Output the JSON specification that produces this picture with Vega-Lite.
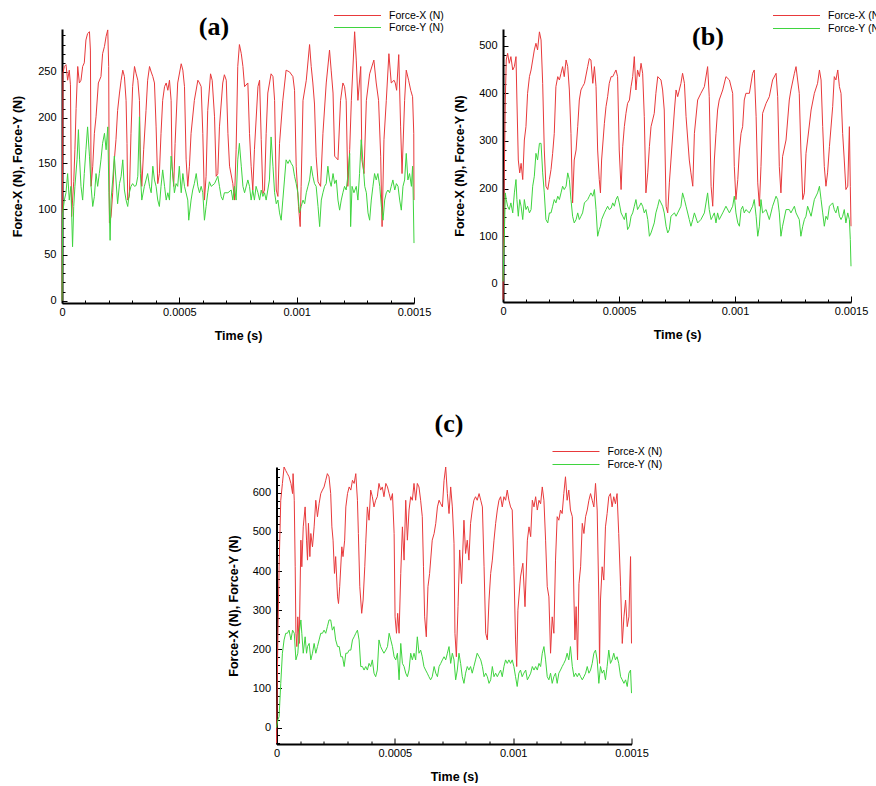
{
"$schema":"https://vega.github.io/schema/vega-lite/v6.json",
"background":"white",
"padding":{"left":11,"top":9,"right":0,"bottom":0},
"datasets":{
"aX":[{"t":0,"v":0},{"t":4,"v":249},{"t":10,"v":256},{"t":17,"v":258},{"t":24,"v":241},{"t":31,"v":252},{"t":36,"v":236},{"t":41,"v":92},{"t":45,"v":110},{"t":50,"v":130},{"t":55,"v":165},{"t":60,"v":210},{"t":67,"v":256},{"t":74,"v":238},{"t":81,"v":241},{"t":88,"v":256},{"t":95,"v":260},{"t":102,"v":285},{"t":109,"v":292},{"t":117,"v":294},{"t":121,"v":274},{"t":124,"v":125},{"t":131,"v":147},{"t":138,"v":183},{"t":145,"v":201},{"t":155,"v":238},{"t":166,"v":245},{"t":173,"v":270},{"t":181,"v":278},{"t":188,"v":289},{"t":195,"v":296},{"t":199,"v":256},{"t":202,"v":85},{"t":209,"v":92},{"t":216,"v":118},{"t":223,"v":154},{"t":230,"v":176},{"t":237,"v":208},{"t":245,"v":227},{"t":252,"v":241},{"t":259,"v":252},{"t":266,"v":245},{"t":273,"v":219},{"t":277,"v":172},{"t":280,"v":110},{"t":287,"v":114},{"t":294,"v":183},{"t":301,"v":234},{"t":309,"v":256},{"t":316,"v":248},{"t":323,"v":241},{"t":330,"v":219},{"t":334,"v":154},{"t":340,"v":125},{"t":348,"v":165},{"t":358,"v":208},{"t":365,"v":241},{"t":373,"v":256},{"t":380,"v":250},{"t":387,"v":245},{"t":394,"v":238},{"t":401,"v":190},{"t":408,"v":128},{"t":415,"v":139},{"t":422,"v":183},{"t":429,"v":219},{"t":437,"v":234},{"t":444,"v":238},{"t":451,"v":230},{"t":458,"v":241},{"t":465,"v":219},{"t":469,"v":147},{"t":476,"v":125},{"t":482,"v":172},{"t":493,"v":238},{"t":508,"v":259},{"t":515,"v":252},{"t":522,"v":234},{"t":529,"v":154},{"t":536,"v":125},{"t":543,"v":147},{"t":550,"v":183},{"t":564,"v":219},{"t":579,"v":241},{"t":586,"v":238},{"t":593,"v":234},{"t":600,"v":183},{"t":607,"v":110},{"t":614,"v":136},{"t":621,"v":208},{"t":633,"v":248},{"t":640,"v":241},{"t":650,"v":201},{"t":657,"v":136},{"t":664,"v":139},{"t":671,"v":190},{"t":685,"v":238},{"t":692,"v":247},{"t":700,"v":241},{"t":707,"v":183},{"t":714,"v":147},{"t":728,"v":128},{"t":735,"v":110},{"t":742,"v":165},{"t":749,"v":256},{"t":756,"v":280},{"t":764,"v":270},{"t":771,"v":256},{"t":778,"v":234},{"t":792,"v":238},{"t":799,"v":183},{"t":806,"v":147},{"t":813,"v":121},{"t":820,"v":165},{"t":835,"v":234},{"t":842,"v":241},{"t":849,"v":176},{"t":856,"v":117},{"t":863,"v":121},{"t":870,"v":183},{"t":877,"v":227},{"t":891,"v":248},{"t":899,"v":245},{"t":906,"v":219},{"t":913,"v":121},{"t":920,"v":114},{"t":927,"v":172},{"t":941,"v":219},{"t":955,"v":252},{"t":970,"v":250},{"t":984,"v":245},{"t":991,"v":230},{"t":998,"v":147},{"t":1008,"v":103},{"t":1015,"v":81},{"t":1019,"v":125},{"t":1027,"v":219},{"t":1041,"v":241},{"t":1055,"v":280},{"t":1062,"v":256},{"t":1069,"v":238},{"t":1076,"v":215},{"t":1083,"v":158},{"t":1091,"v":130},{"t":1102,"v":125},{"t":1112,"v":183},{"t":1126,"v":238},{"t":1140,"v":274},{"t":1147,"v":252},{"t":1155,"v":227},{"t":1162,"v":158},{"t":1176,"v":154},{"t":1187,"v":219},{"t":1197,"v":238},{"t":1204,"v":234},{"t":1211,"v":219},{"t":1218,"v":125},{"t":1226,"v":165},{"t":1233,"v":219},{"t":1247,"v":294},{"t":1254,"v":263},{"t":1261,"v":219},{"t":1273,"v":256},{"t":1278,"v":154},{"t":1287,"v":139},{"t":1297,"v":219},{"t":1311,"v":248},{"t":1329,"v":263},{"t":1339,"v":238},{"t":1349,"v":219},{"t":1358,"v":158},{"t":1364,"v":81},{"t":1372,"v":176},{"t":1382,"v":219},{"t":1393,"v":270},{"t":1403,"v":238},{"t":1415,"v":241},{"t":1420,"v":238},{"t":1426,"v":230},{"t":1435,"v":269},{"t":1443,"v":190},{"t":1449,"v":139},{"t":1460,"v":219},{"t":1467,"v":252},{"t":1477,"v":241},{"t":1486,"v":230},{"t":1494,"v":223},{"t":1499,"v":183},{"t":1500,"v":110}],
"aY":[{"t":0,"v":0},{"t":3,"v":96},{"t":10,"v":110},{"t":17,"v":118},{"t":24,"v":139},{"t":31,"v":110},{"t":38,"v":125},{"t":45,"v":59},{"t":50,"v":103},{"t":55,"v":125},{"t":64,"v":154},{"t":70,"v":187},{"t":75,"v":154},{"t":81,"v":125},{"t":88,"v":110},{"t":95,"v":139},{"t":102,"v":165},{"t":109,"v":190},{"t":117,"v":158},{"t":124,"v":125},{"t":131,"v":103},{"t":138,"v":114},{"t":145,"v":139},{"t":152,"v":125},{"t":159,"v":139},{"t":166,"v":154},{"t":173,"v":172},{"t":181,"v":183},{"t":188,"v":165},{"t":195,"v":190},{"t":200,"v":118},{"t":205,"v":66},{"t":209,"v":110},{"t":216,"v":132},{"t":223,"v":158},{"t":230,"v":132},{"t":237,"v":106},{"t":245,"v":128},{"t":252,"v":136},{"t":259,"v":154},{"t":266,"v":121},{"t":273,"v":110},{"t":280,"v":103},{"t":287,"v":118},{"t":294,"v":125},{"t":301,"v":128},{"t":309,"v":125},{"t":316,"v":126},{"t":323,"v":136},{"t":330,"v":201},{"t":334,"v":139},{"t":340,"v":110},{"t":351,"v":125},{"t":365,"v":139},{"t":373,"v":125},{"t":380,"v":118},{"t":387,"v":147},{"t":394,"v":132},{"t":401,"v":125},{"t":408,"v":110},{"t":415,"v":103},{"t":422,"v":125},{"t":429,"v":143},{"t":437,"v":125},{"t":444,"v":110},{"t":451,"v":118},{"t":458,"v":110},{"t":465,"v":158},{"t":472,"v":139},{"t":479,"v":118},{"t":486,"v":128},{"t":493,"v":125},{"t":500,"v":147},{"t":508,"v":118},{"t":515,"v":139},{"t":522,"v":125},{"t":536,"v":110},{"t":540,"v":88},{"t":550,"v":110},{"t":557,"v":121},{"t":564,"v":128},{"t":572,"v":139},{"t":579,"v":125},{"t":586,"v":118},{"t":593,"v":125},{"t":600,"v":118},{"t":607,"v":88},{"t":614,"v":103},{"t":621,"v":118},{"t":628,"v":130},{"t":636,"v":125},{"t":650,"v":128},{"t":664,"v":136},{"t":671,"v":125},{"t":678,"v":114},{"t":685,"v":110},{"t":692,"v":118},{"t":707,"v":118},{"t":721,"v":121},{"t":728,"v":110},{"t":735,"v":125},{"t":742,"v":110},{"t":749,"v":154},{"t":756,"v":172},{"t":764,"v":147},{"t":771,"v":125},{"t":778,"v":118},{"t":792,"v":132},{"t":799,"v":125},{"t":806,"v":110},{"t":813,"v":121},{"t":820,"v":110},{"t":827,"v":125},{"t":835,"v":118},{"t":842,"v":110},{"t":849,"v":121},{"t":856,"v":114},{"t":863,"v":118},{"t":870,"v":110},{"t":877,"v":121},{"t":884,"v":132},{"t":891,"v":179},{"t":899,"v":147},{"t":906,"v":118},{"t":913,"v":106},{"t":920,"v":110},{"t":927,"v":96},{"t":934,"v":88},{"t":941,"v":110},{"t":948,"v":132},{"t":955,"v":154},{"t":963,"v":150},{"t":970,"v":154},{"t":977,"v":150},{"t":984,"v":147},{"t":991,"v":136},{"t":998,"v":128},{"t":1005,"v":118},{"t":1012,"v":96},{"t":1019,"v":103},{"t":1027,"v":110},{"t":1034,"v":106},{"t":1041,"v":118},{"t":1048,"v":125},{"t":1055,"v":132},{"t":1062,"v":147},{"t":1069,"v":136},{"t":1076,"v":128},{"t":1083,"v":125},{"t":1091,"v":103},{"t":1098,"v":81},{"t":1105,"v":110},{"t":1112,"v":118},{"t":1119,"v":125},{"t":1126,"v":128},{"t":1133,"v":147},{"t":1140,"v":132},{"t":1147,"v":125},{"t":1155,"v":139},{"t":1162,"v":128},{"t":1169,"v":132},{"t":1176,"v":110},{"t":1183,"v":99},{"t":1190,"v":110},{"t":1197,"v":118},{"t":1204,"v":125},{"t":1211,"v":121},{"t":1218,"v":136},{"t":1226,"v":161},{"t":1230,"v":81},{"t":1236,"v":125},{"t":1244,"v":118},{"t":1254,"v":125},{"t":1261,"v":110},{"t":1268,"v":139},{"t":1275,"v":176},{"t":1282,"v":154},{"t":1290,"v":125},{"t":1297,"v":118},{"t":1304,"v":96},{"t":1311,"v":88},{"t":1318,"v":110},{"t":1325,"v":125},{"t":1332,"v":139},{"t":1339,"v":132},{"t":1346,"v":139},{"t":1354,"v":125},{"t":1361,"v":103},{"t":1368,"v":88},{"t":1375,"v":110},{"t":1382,"v":118},{"t":1389,"v":121},{"t":1396,"v":118},{"t":1403,"v":125},{"t":1410,"v":132},{"t":1418,"v":121},{"t":1425,"v":128},{"t":1432,"v":125},{"t":1439,"v":110},{"t":1446,"v":99},{"t":1453,"v":125},{"t":1460,"v":132},{"t":1467,"v":161},{"t":1474,"v":132},{"t":1481,"v":139},{"t":1489,"v":125},{"t":1494,"v":147},{"t":1497,"v":110},{"t":1500,"v":63}],
"bX":[{"t":0,"v":-33},{"t":3,"v":100},{"t":6,"v":246},{"t":10,"v":386},{"t":14,"v":470},{"t":20,"v":484},{"t":27,"v":463},{"t":34,"v":477},{"t":42,"v":449},{"t":49,"v":456},{"t":56,"v":477},{"t":60,"v":386},{"t":66,"v":260},{"t":72,"v":233},{"t":78,"v":253},{"t":85,"v":219},{"t":92,"v":302},{"t":99,"v":330},{"t":106,"v":400},{"t":114,"v":435},{"t":121,"v":449},{"t":128,"v":470},{"t":135,"v":491},{"t":142,"v":505},{"t":149,"v":491},{"t":157,"v":529},{"t":164,"v":512},{"t":171,"v":421},{"t":178,"v":281},{"t":185,"v":205},{"t":193,"v":198},{"t":200,"v":219},{"t":207,"v":240},{"t":214,"v":274},{"t":221,"v":316},{"t":228,"v":414},{"t":236,"v":435},{"t":243,"v":428},{"t":250,"v":442},{"t":257,"v":456},{"t":264,"v":435},{"t":272,"v":470},{"t":279,"v":456},{"t":286,"v":407},{"t":293,"v":316},{"t":300,"v":170},{"t":307,"v":260},{"t":315,"v":281},{"t":322,"v":330},{"t":329,"v":386},{"t":336,"v":407},{"t":343,"v":414},{"t":351,"v":421},{"t":365,"v":456},{"t":372,"v":473},{"t":379,"v":470},{"t":387,"v":421},{"t":394,"v":456},{"t":401,"v":414},{"t":408,"v":281},{"t":415,"v":219},{"t":420,"v":191},{"t":425,"v":260},{"t":437,"v":337},{"t":444,"v":372},{"t":451,"v":393},{"t":458,"v":421},{"t":466,"v":435},{"t":473,"v":435},{"t":480,"v":442},{"t":487,"v":449},{"t":494,"v":435},{"t":501,"v":281},{"t":509,"v":198},{"t":516,"v":288},{"t":523,"v":330},{"t":530,"v":358},{"t":537,"v":379},{"t":545,"v":386},{"t":552,"v":414},{"t":559,"v":435},{"t":566,"v":477},{"t":573,"v":407},{"t":580,"v":449},{"t":588,"v":435},{"t":595,"v":463},{"t":602,"v":442},{"t":609,"v":351},{"t":616,"v":191},{"t":624,"v":233},{"t":631,"v":288},{"t":638,"v":330},{"t":652,"v":358},{"t":659,"v":400},{"t":667,"v":435},{"t":681,"v":428},{"t":688,"v":407},{"t":695,"v":365},{"t":703,"v":163},{"t":710,"v":149},{"t":717,"v":212},{"t":724,"v":260},{"t":739,"v":365},{"t":746,"v":407},{"t":753,"v":393},{"t":767,"v":421},{"t":774,"v":442},{"t":782,"v":421},{"t":789,"v":351},{"t":803,"v":260},{"t":810,"v":233},{"t":818,"v":205},{"t":825,"v":316},{"t":839,"v":386},{"t":853,"v":400},{"t":868,"v":414},{"t":882,"v":456},{"t":889,"v":393},{"t":897,"v":205},{"t":904,"v":163},{"t":911,"v":260},{"t":918,"v":316},{"t":925,"v":365},{"t":932,"v":386},{"t":947,"v":407},{"t":961,"v":435},{"t":976,"v":428},{"t":990,"v":400},{"t":997,"v":246},{"t":1004,"v":177},{"t":1012,"v":219},{"t":1019,"v":281},{"t":1026,"v":316},{"t":1033,"v":330},{"t":1040,"v":386},{"t":1047,"v":400},{"t":1062,"v":400},{"t":1076,"v":442},{"t":1083,"v":449},{"t":1091,"v":351},{"t":1098,"v":212},{"t":1105,"v":163},{"t":1112,"v":246},{"t":1119,"v":358},{"t":1134,"v":379},{"t":1148,"v":393},{"t":1162,"v":428},{"t":1177,"v":442},{"t":1184,"v":393},{"t":1191,"v":246},{"t":1198,"v":191},{"t":1205,"v":267},{"t":1220,"v":302},{"t":1234,"v":386},{"t":1241,"v":407},{"t":1256,"v":442},{"t":1263,"v":456},{"t":1270,"v":428},{"t":1277,"v":400},{"t":1284,"v":281},{"t":1292,"v":177},{"t":1299,"v":191},{"t":1306,"v":274},{"t":1313,"v":302},{"t":1328,"v":365},{"t":1342,"v":400},{"t":1356,"v":421},{"t":1364,"v":449},{"t":1371,"v":428},{"t":1378,"v":330},{"t":1385,"v":246},{"t":1392,"v":205},{"t":1399,"v":233},{"t":1407,"v":288},{"t":1421,"v":372},{"t":1428,"v":435},{"t":1435,"v":428},{"t":1443,"v":449},{"t":1450,"v":414},{"t":1457,"v":400},{"t":1464,"v":316},{"t":1471,"v":260},{"t":1478,"v":198},{"t":1486,"v":205},{"t":1493,"v":330},{"t":1497,"v":205},{"t":1500,"v":121}],
"bY":[{"t":0,"v":5},{"t":6,"v":107},{"t":10,"v":191},{"t":14,"v":177},{"t":20,"v":163},{"t":27,"v":156},{"t":34,"v":170},{"t":42,"v":149},{"t":49,"v":191},{"t":56,"v":219},{"t":60,"v":177},{"t":66,"v":142},{"t":72,"v":177},{"t":78,"v":163},{"t":85,"v":135},{"t":92,"v":177},{"t":99,"v":156},{"t":106,"v":163},{"t":114,"v":149},{"t":121,"v":156},{"t":128,"v":205},{"t":135,"v":226},{"t":142,"v":274},{"t":149,"v":260},{"t":157,"v":295},{"t":164,"v":295},{"t":171,"v":233},{"t":178,"v":191},{"t":185,"v":135},{"t":193,"v":128},{"t":200,"v":149},{"t":207,"v":149},{"t":214,"v":163},{"t":221,"v":177},{"t":228,"v":170},{"t":236,"v":184},{"t":243,"v":177},{"t":250,"v":191},{"t":257,"v":205},{"t":264,"v":198},{"t":272,"v":205},{"t":279,"v":233},{"t":286,"v":219},{"t":293,"v":177},{"t":300,"v":142},{"t":307,"v":128},{"t":315,"v":135},{"t":322,"v":149},{"t":329,"v":135},{"t":336,"v":142},{"t":343,"v":149},{"t":351,"v":170},{"t":365,"v":177},{"t":372,"v":184},{"t":379,"v":191},{"t":387,"v":184},{"t":394,"v":198},{"t":401,"v":156},{"t":408,"v":100},{"t":415,"v":114},{"t":420,"v":121},{"t":425,"v":135},{"t":437,"v":149},{"t":444,"v":156},{"t":451,"v":163},{"t":458,"v":156},{"t":466,"v":159},{"t":473,"v":170},{"t":480,"v":163},{"t":487,"v":177},{"t":494,"v":184},{"t":501,"v":170},{"t":509,"v":149},{"t":516,"v":142},{"t":523,"v":135},{"t":530,"v":149},{"t":537,"v":114},{"t":545,"v":121},{"t":552,"v":142},{"t":559,"v":149},{"t":566,"v":163},{"t":573,"v":177},{"t":580,"v":156},{"t":588,"v":163},{"t":595,"v":170},{"t":602,"v":163},{"t":609,"v":149},{"t":616,"v":156},{"t":624,"v":135},{"t":631,"v":100},{"t":638,"v":107},{"t":652,"v":128},{"t":659,"v":149},{"t":667,"v":163},{"t":674,"v":177},{"t":681,"v":170},{"t":688,"v":163},{"t":695,"v":149},{"t":703,"v":121},{"t":710,"v":107},{"t":717,"v":114},{"t":724,"v":142},{"t":739,"v":149},{"t":746,"v":142},{"t":753,"v":149},{"t":767,"v":163},{"t":774,"v":191},{"t":782,"v":177},{"t":789,"v":163},{"t":803,"v":135},{"t":810,"v":121},{"t":818,"v":135},{"t":825,"v":149},{"t":839,"v":128},{"t":853,"v":135},{"t":868,"v":149},{"t":882,"v":191},{"t":889,"v":156},{"t":897,"v":135},{"t":904,"v":142},{"t":911,"v":149},{"t":918,"v":128},{"t":925,"v":149},{"t":932,"v":135},{"t":947,"v":149},{"t":961,"v":163},{"t":976,"v":149},{"t":990,"v":163},{"t":997,"v":184},{"t":1004,"v":149},{"t":1012,"v":128},{"t":1019,"v":121},{"t":1026,"v":156},{"t":1033,"v":163},{"t":1040,"v":149},{"t":1047,"v":156},{"t":1062,"v":149},{"t":1076,"v":163},{"t":1083,"v":177},{"t":1091,"v":142},{"t":1098,"v":100},{"t":1105,"v":121},{"t":1112,"v":177},{"t":1119,"v":149},{"t":1134,"v":156},{"t":1148,"v":135},{"t":1162,"v":163},{"t":1177,"v":184},{"t":1184,"v":177},{"t":1191,"v":149},{"t":1198,"v":100},{"t":1205,"v":121},{"t":1220,"v":156},{"t":1234,"v":156},{"t":1241,"v":149},{"t":1256,"v":163},{"t":1263,"v":149},{"t":1277,"v":135},{"t":1284,"v":100},{"t":1292,"v":121},{"t":1299,"v":135},{"t":1306,"v":142},{"t":1313,"v":163},{"t":1328,"v":142},{"t":1342,"v":177},{"t":1356,"v":191},{"t":1364,"v":205},{"t":1371,"v":177},{"t":1378,"v":149},{"t":1385,"v":121},{"t":1392,"v":142},{"t":1399,"v":135},{"t":1407,"v":163},{"t":1421,"v":170},{"t":1428,"v":156},{"t":1435,"v":149},{"t":1443,"v":163},{"t":1450,"v":142},{"t":1457,"v":135},{"t":1464,"v":142},{"t":1471,"v":156},{"t":1478,"v":128},{"t":1486,"v":149},{"t":1493,"v":135},{"t":1497,"v":93},{"t":1500,"v":37}],
"cX":[{"t":0,"v":-40},{"t":6,"v":241},{"t":11,"v":411},{"t":18,"v":581},{"t":25,"v":624},{"t":32,"v":666},{"t":39,"v":657},{"t":46,"v":649},{"t":53,"v":641},{"t":61,"v":624},{"t":68,"v":598},{"t":70,"v":649},{"t":75,"v":581},{"t":79,"v":411},{"t":82,"v":241},{"t":86,"v":207},{"t":90,"v":283},{"t":96,"v":215},{"t":103,"v":479},{"t":107,"v":411},{"t":113,"v":513},{"t":121,"v":564},{"t":127,"v":479},{"t":131,"v":428},{"t":135,"v":522},{"t":141,"v":437},{"t":145,"v":496},{"t":152,"v":462},{"t":159,"v":513},{"t":166,"v":581},{"t":173,"v":539},{"t":180,"v":572},{"t":187,"v":598},{"t":194,"v":607},{"t":201,"v":615},{"t":208,"v":632},{"t":215,"v":649},{"t":222,"v":641},{"t":229,"v":598},{"t":234,"v":513},{"t":239,"v":479},{"t":245,"v":394},{"t":250,"v":437},{"t":258,"v":334},{"t":262,"v":317},{"t":267,"v":360},{"t":276,"v":462},{"t":281,"v":437},{"t":288,"v":479},{"t":293,"v":564},{"t":300,"v":598},{"t":307,"v":615},{"t":314,"v":607},{"t":321,"v":632},{"t":328,"v":624},{"t":335,"v":649},{"t":342,"v":581},{"t":346,"v":496},{"t":352,"v":360},{"t":360,"v":292},{"t":366,"v":326},{"t":373,"v":411},{"t":377,"v":471},{"t":384,"v":564},{"t":391,"v":530},{"t":398,"v":607},{"t":405,"v":590},{"t":412,"v":564},{"t":419,"v":581},{"t":426,"v":590},{"t":433,"v":624},{"t":440,"v":607},{"t":447,"v":615},{"t":454,"v":590},{"t":462,"v":624},{"t":469,"v":615},{"t":476,"v":598},{"t":483,"v":581},{"t":490,"v":598},{"t":497,"v":496},{"t":501,"v":283},{"t":507,"v":241},{"t":512,"v":292},{"t":518,"v":241},{"t":525,"v":394},{"t":532,"v":513},{"t":539,"v":428},{"t":546,"v":581},{"t":553,"v":479},{"t":560,"v":556},{"t":567,"v":590},{"t":574,"v":581},{"t":581,"v":624},{"t":588,"v":581},{"t":595,"v":624},{"t":602,"v":615},{"t":609,"v":581},{"t":616,"v":539},{"t":621,"v":411},{"t":626,"v":283},{"t":633,"v":232},{"t":640,"v":360},{"t":647,"v":394},{"t":658,"v":479},{"t":666,"v":496},{"t":673,"v":522},{"t":680,"v":564},{"t":687,"v":581},{"t":694,"v":572},{"t":701,"v":564},{"t":708,"v":632},{"t":715,"v":666},{"t":722,"v":598},{"t":729,"v":547},{"t":736,"v":615},{"t":743,"v":564},{"t":750,"v":471},{"t":754,"v":241},{"t":760,"v":181},{"t":767,"v":309},{"t":774,"v":454},{"t":782,"v":368},{"t":792,"v":530},{"t":799,"v":445},{"t":806,"v":479},{"t":813,"v":428},{"t":820,"v":522},{"t":827,"v":556},{"t":834,"v":581},{"t":841,"v":590},{"t":848,"v":581},{"t":856,"v":598},{"t":863,"v":581},{"t":870,"v":564},{"t":877,"v":411},{"t":884,"v":241},{"t":891,"v":224},{"t":898,"v":326},{"t":905,"v":394},{"t":912,"v":428},{"t":919,"v":479},{"t":926,"v":522},{"t":933,"v":556},{"t":940,"v":581},{"t":947,"v":590},{"t":954,"v":564},{"t":961,"v":590},{"t":968,"v":581},{"t":975,"v":607},{"t":982,"v":581},{"t":989,"v":564},{"t":996,"v":556},{"t":1003,"v":411},{"t":1010,"v":224},{"t":1015,"v":156},{"t":1020,"v":300},{"t":1031,"v":385},{"t":1041,"v":420},{"t":1050,"v":309},{"t":1060,"v":479},{"t":1067,"v":513},{"t":1074,"v":488},{"t":1081,"v":581},{"t":1088,"v":564},{"t":1095,"v":590},{"t":1102,"v":556},{"t":1109,"v":581},{"t":1116,"v":572},{"t":1123,"v":615},{"t":1130,"v":581},{"t":1137,"v":479},{"t":1144,"v":360},{"t":1151,"v":334},{"t":1158,"v":190},{"t":1165,"v":283},{"t":1172,"v":241},{"t":1179,"v":428},{"t":1186,"v":539},{"t":1193,"v":530},{"t":1200,"v":556},{"t":1207,"v":547},{"t":1214,"v":598},{"t":1221,"v":641},{"t":1228,"v":581},{"t":1235,"v":607},{"t":1242,"v":556},{"t":1250,"v":539},{"t":1257,"v":326},{"t":1261,"v":224},{"t":1266,"v":309},{"t":1272,"v":173},{"t":1278,"v":368},{"t":1285,"v":411},{"t":1292,"v":522},{"t":1299,"v":496},{"t":1306,"v":539},{"t":1313,"v":556},{"t":1320,"v":581},{"t":1327,"v":598},{"t":1334,"v":581},{"t":1341,"v":564},{"t":1348,"v":624},{"t":1355,"v":556},{"t":1362,"v":326},{"t":1365,"v":164},{"t":1369,"v":326},{"t":1376,"v":411},{"t":1383,"v":377},{"t":1390,"v":513},{"t":1397,"v":547},{"t":1404,"v":590},{"t":1411,"v":598},{"t":1418,"v":564},{"t":1425,"v":590},{"t":1432,"v":572},{"t":1439,"v":598},{"t":1446,"v":496},{"t":1454,"v":360},{"t":1461,"v":215},{"t":1468,"v":283},{"t":1475,"v":326},{"t":1482,"v":258},{"t":1489,"v":283},{"t":1496,"v":437},{"t":1500,"v":215}],
"cY":[{"t":0,"v":0},{"t":6,"v":20},{"t":11,"v":28},{"t":18,"v":113},{"t":25,"v":190},{"t":32,"v":224},{"t":39,"v":241},{"t":46,"v":241},{"t":53,"v":249},{"t":61,"v":224},{"t":68,"v":249},{"t":75,"v":241},{"t":82,"v":173},{"t":90,"v":190},{"t":96,"v":241},{"t":103,"v":275},{"t":107,"v":241},{"t":113,"v":190},{"t":121,"v":232},{"t":127,"v":190},{"t":131,"v":207},{"t":138,"v":215},{"t":145,"v":173},{"t":152,"v":190},{"t":159,"v":215},{"t":166,"v":190},{"t":173,"v":207},{"t":180,"v":224},{"t":187,"v":241},{"t":194,"v":241},{"t":201,"v":249},{"t":208,"v":241},{"t":215,"v":258},{"t":222,"v":275},{"t":229,"v":275},{"t":236,"v":249},{"t":243,"v":258},{"t":250,"v":224},{"t":258,"v":207},{"t":265,"v":207},{"t":272,"v":181},{"t":279,"v":181},{"t":286,"v":156},{"t":293,"v":190},{"t":300,"v":190},{"t":307,"v":198},{"t":314,"v":198},{"t":321,"v":224},{"t":328,"v":232},{"t":335,"v":241},{"t":342,"v":249},{"t":349,"v":224},{"t":356,"v":156},{"t":363,"v":156},{"t":370,"v":147},{"t":377,"v":156},{"t":384,"v":147},{"t":391,"v":164},{"t":398,"v":156},{"t":405,"v":173},{"t":412,"v":139},{"t":419,"v":130},{"t":426,"v":147},{"t":433,"v":224},{"t":440,"v":207},{"t":447,"v":198},{"t":454,"v":190},{"t":462,"v":198},{"t":469,"v":207},{"t":476,"v":241},{"t":483,"v":224},{"t":490,"v":207},{"t":497,"v":181},{"t":504,"v":173},{"t":511,"v":190},{"t":518,"v":122},{"t":525,"v":215},{"t":532,"v":164},{"t":539,"v":156},{"t":546,"v":139},{"t":553,"v":130},{"t":560,"v":147},{"t":567,"v":190},{"t":574,"v":173},{"t":581,"v":190},{"t":588,"v":173},{"t":595,"v":232},{"t":602,"v":190},{"t":609,"v":198},{"t":616,"v":181},{"t":623,"v":156},{"t":630,"v":147},{"t":637,"v":139},{"t":644,"v":130},{"t":651,"v":122},{"t":658,"v":130},{"t":666,"v":156},{"t":673,"v":139},{"t":680,"v":130},{"t":687,"v":156},{"t":694,"v":164},{"t":701,"v":173},{"t":708,"v":181},{"t":715,"v":173},{"t":722,"v":190},{"t":729,"v":207},{"t":736,"v":164},{"t":743,"v":190},{"t":750,"v":173},{"t":757,"v":122},{"t":764,"v":147},{"t":771,"v":190},{"t":778,"v":164},{"t":785,"v":130},{"t":792,"v":113},{"t":799,"v":139},{"t":806,"v":156},{"t":813,"v":147},{"t":820,"v":156},{"t":827,"v":139},{"t":834,"v":156},{"t":841,"v":173},{"t":848,"v":190},{"t":856,"v":181},{"t":863,"v":173},{"t":870,"v":156},{"t":877,"v":130},{"t":884,"v":139},{"t":891,"v":130},{"t":898,"v":113},{"t":905,"v":122},{"t":912,"v":156},{"t":919,"v":130},{"t":926,"v":139},{"t":933,"v":130},{"t":940,"v":139},{"t":947,"v":147},{"t":954,"v":130},{"t":961,"v":156},{"t":968,"v":173},{"t":975,"v":164},{"t":982,"v":173},{"t":989,"v":164},{"t":996,"v":173},{"t":1003,"v":156},{"t":1010,"v":130},{"t":1017,"v":105},{"t":1024,"v":139},{"t":1031,"v":147},{"t":1038,"v":130},{"t":1045,"v":139},{"t":1053,"v":147},{"t":1060,"v":122},{"t":1067,"v":130},{"t":1074,"v":139},{"t":1081,"v":156},{"t":1088,"v":147},{"t":1095,"v":156},{"t":1102,"v":147},{"t":1109,"v":164},{"t":1116,"v":156},{"t":1123,"v":190},{"t":1130,"v":207},{"t":1137,"v":173},{"t":1144,"v":130},{"t":1151,"v":122},{"t":1158,"v":139},{"t":1165,"v":113},{"t":1172,"v":130},{"t":1179,"v":139},{"t":1186,"v":113},{"t":1193,"v":139},{"t":1200,"v":147},{"t":1207,"v":156},{"t":1214,"v":164},{"t":1221,"v":173},{"t":1228,"v":190},{"t":1235,"v":173},{"t":1242,"v":207},{"t":1250,"v":156},{"t":1257,"v":130},{"t":1264,"v":139},{"t":1271,"v":130},{"t":1278,"v":139},{"t":1285,"v":130},{"t":1292,"v":122},{"t":1299,"v":130},{"t":1306,"v":139},{"t":1313,"v":156},{"t":1320,"v":139},{"t":1327,"v":147},{"t":1334,"v":164},{"t":1341,"v":190},{"t":1348,"v":198},{"t":1355,"v":173},{"t":1362,"v":113},{"t":1369,"v":156},{"t":1376,"v":139},{"t":1383,"v":147},{"t":1390,"v":122},{"t":1397,"v":156},{"t":1404,"v":198},{"t":1411,"v":164},{"t":1418,"v":173},{"t":1425,"v":190},{"t":1432,"v":173},{"t":1439,"v":181},{"t":1446,"v":164},{"t":1454,"v":130},{"t":1461,"v":122},{"t":1468,"v":113},{"t":1475,"v":122},{"t":1482,"v":105},{"t":1489,"v":139},{"t":1496,"v":147},{"t":1500,"v":88}]
},
"vconcat":[
{"hconcat":[
{"width":352,"height":274,
 "title":{"text":"(a)","dx":-24,"offset":-31},
 "layer":[
  {"data":{"name":"aX"},"mark":{"type":"line","strokeWidth":1},
   "encoding":{
    "x":{"field":"t","type":"quantitative","scale":{"domain":[0,1500],"nice":false,"zero":false},"axis":{"orient":"bottom","values":[0,500,1000,1500],"labelExpr":"datum.value/1000000","title":"Time (s)","tickSize":-6,"labelPadding":9,"titlePadding":12}},
    "y":{"field":"v","type":"quantitative","scale":{"domain":[-2.5,297],"nice":false,"zero":false},"axis":{"orient":"left","values":[0,50,100,150,200,250],"title":"Force-X (N), Force-Y (N)","tickSize":-5,"labelPadding":11,"titlePadding":13}},
    "color":{"datum":"Force-X (N)","type":"nominal","scale":{"domain":["Force-X (N)","Force-Y (N)"],"range":["#e8393b","#3fd43f"]},"legend":{"orient":"none","legendX":289,"legendY":-20,"rowPadding":-4,"title":null}}}},
  {"data":{"name":"aY"},"mark":{"type":"line","strokeWidth":1},
   "encoding":{
    "x":{"field":"t","type":"quantitative","axis":{"orient":"bottom","values":[100,200,300,400,600,700,800,900,1100,1200,1300,1400],"labels":false,"domain":false,"tickSize":-3,"title":null}},
    "y":{"field":"v","type":"quantitative","axis":{"orient":"left","values":[10,20,30,40,60,70,80,90,110,120,130,140,160,170,180,190,210,220,230,240,260,270,280,290],"labels":false,"domain":false,"tickSize":-3,"title":null}},
    "color":{"datum":"Force-Y (N)","type":"nominal"}}}
 ],
 "resolve":{"axis":{"x":"independent","y":"independent"}}
},
{"width":348,"height":273,
 "title":{"text":"(b)","dx":31,"offset":-41},
 "layer":[
  {"data":{"name":"bX"},"mark":{"type":"line","strokeWidth":1},
   "encoding":{
    "x":{"field":"t","type":"quantitative","scale":{"domain":[0,1500],"nice":false,"zero":false},"axis":{"orient":"bottom","values":[0,500,1000,1500],"labelExpr":"datum.value/1000000","title":"Time (s)","tickSize":-6,"labelPadding":9,"titlePadding":12}},
    "y":{"field":"v","type":"quantitative","scale":{"domain":[-38,535],"nice":false,"zero":false},"axis":{"orient":"left","values":[0,100,200,300,400,500],"title":"Force-X (N), Force-Y (N)","tickSize":-5,"labelPadding":11,"titlePadding":12}},
    "color":{"datum":"Force-X (N)","type":"nominal","scale":{"domain":["Force-X (N)","Force-Y (N)"],"range":["#e8393b","#3fd43f"]},"legend":{"orient":"none","legendX":287,"legendY":-20,"rowPadding":1,"title":null}}}},
  {"data":{"name":"bY"},"mark":{"type":"line","strokeWidth":1},
   "encoding":{
    "x":{"field":"t","type":"quantitative","axis":{"orient":"bottom","values":[100,200,300,400,600,700,800,900,1100,1200,1300,1400],"labels":false,"domain":false,"tickSize":-3,"title":null}},
    "y":{"field":"v","type":"quantitative","axis":{"orient":"left","values":[-20,20,40,60,80,120,140,160,180,220,240,260,280,320,340,360,380,420,440,460,480,520],"labels":false,"domain":false,"tickSize":-3,"title":null}},
    "color":{"datum":"Force-Y (N)","type":"nominal"}}}
 ],
 "resolve":{"axis":{"x":"independent","y":"independent"}}
}
],
"spacing":9,
"resolve":{"scale":{"color":"independent"},"legend":{"color":"independent"}}
},
{"width":355,"height":277,
 "title":{"text":"(c)","dx":-5,"offset":2},
 "layer":[
  {"data":{"name":"cX"},"mark":{"type":"line","strokeWidth":1},
   "encoding":{
    "x":{"field":"t","type":"quantitative","scale":{"domain":[0,1500],"nice":false,"zero":false},"axis":{"orient":"bottom","values":[0,500,1000,1500],"labelExpr":"datum.value/1000000","title":"Time (s)","tickSize":-6,"labelPadding":9,"titlePadding":12}},
    "y":{"field":"v","type":"quantitative","scale":{"domain":[-42,666],"nice":false,"zero":false},"axis":{"orient":"left","values":[0,100,200,300,400,500,600],"title":"Force-X (N), Force-Y (N)","tickSize":-5,"labelPadding":11,"titlePadding":12}},
    "color":{"datum":"Force-X (N)","type":"nominal","scale":{"domain":["Force-X (N)","Force-Y (N)"],"range":["#e8393b","#3fd43f"]},"legend":{"orient":"none","legendX":287,"legendY":-28,"padding":6,"rowPadding":1,"title":null}}}},
  {"data":{"name":"cY"},"mark":{"type":"line","strokeWidth":1},
   "encoding":{
    "x":{"field":"t","type":"quantitative","axis":{"orient":"bottom","values":[100,200,300,400,600,700,800,900,1100,1200,1300,1400],"labels":false,"domain":false,"tickSize":-3,"title":null}},
    "y":{"field":"v","type":"quantitative","axis":{"orient":"left","values":[-40,-20,20,40,60,80,120,140,160,180,220,240,260,280,320,340,360,380,420,440,460,480,520,540,560,580,620,640,660],"labels":false,"domain":false,"tickSize":-3,"title":null}},
    "color":{"datum":"Force-Y (N)","type":"nominal"}}}
 ],
 "resolve":{"axis":{"x":"independent","y":"independent"}}
}
],
"spacing":69,
"center":true,
"resolve":{"scale":{"color":"independent"},"legend":{"color":"independent"}},
"config":{
 "view":{"stroke":null},
 "axis":{"labelFont":"Liberation Sans","labelFontSize":11,"labelColor":"black","titleFont":"Liberation Sans","titleFontSize":12.5,"titleFontWeight":"bold","titleColor":"black","domainColor":"black","domainWidth":2,"tickColor":"black","tickWidth":1,"grid":false,"labelFlush":false,"labelOverlap":false,"labelBound":false},
 "legend":{"labelFont":"Liberation Sans","labelFontSize":10.5,"labelColor":"black","symbolType":"M-4,0H4","symbolSize":138,"symbolStrokeWidth":1,"labelOffset":25,"padding":0},
 "title":{"font":"Liberation Serif","fontSize":26,"fontWeight":"bold","color":"black","frame":"group","anchor":"middle"}
}
}
